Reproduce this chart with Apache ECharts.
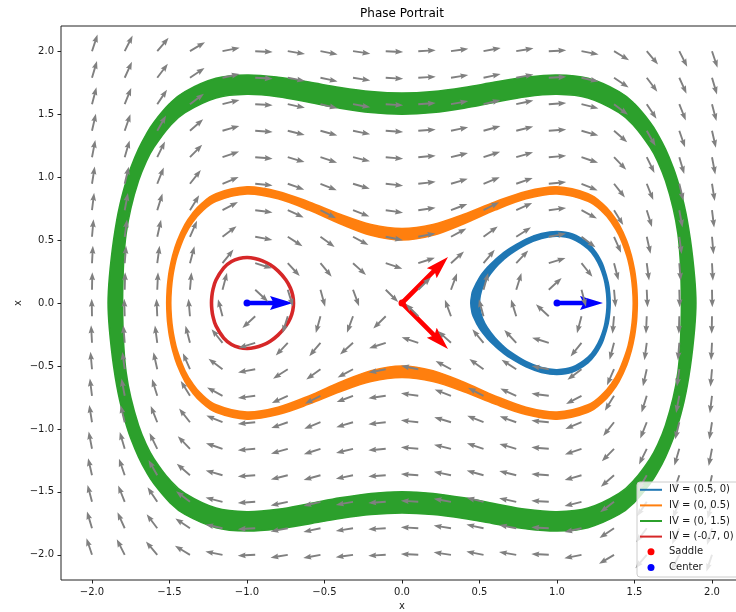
<!DOCTYPE html>
<html>
<head>
<meta charset="utf-8">
<title>Phase Portrait</title>
<script src="https://cdn.jsdelivr.net/npm/echarts@6/dist/echarts.min.js"></script>
<style>
html, body { margin: 0; padding: 0; background: #fff; }
#main { width: 736px; height: 612px; }
</style>
</head>
<body>
<div id="main"></div>
<script>
// grid of the direction field (20 x 20)
var gridVals = [-2, -1.789, -1.579, -1.368, -1.158, -0.947, -0.737, -0.526, -0.316, -0.105,
  0.105, 0.316, 0.526, 0.737, 0.947, 1.158, 1.368, 1.579, 1.789, 2];
// horizontal component for each row (one per y value)
var rowU = [-2, -1.789, -1.579, -1.368, -1.158, -0.947, -0.737, -0.526, -0.316, -0.105,
  0.105, 0.316, 0.526, 0.737, 0.947, 1.158, 1.368, 1.579, 1.789, 2];
// vertical component for each column (one per x value)
var colV = [6, 3.941, 2.357, 1.194, 0.394, -0.097, -0.337, -0.380, -0.284, -0.104,
  0.104, 0.284, 0.380, 0.337, 0.097, -0.394, -1.194, -2.357, -3.941, -6];

var xTicks = [-2, -1.5, -1, -0.5, 0, 0.5, 1, 1.5, 2];
var yTicks = [-2, -1.5, -1, -0.5, 0, 0.5, 1, 1.5, 2];

var ivNames = ['IV = (0.5, 0)', 'IV = (0, 0.5)', 'IV = (0, 1.5)', 'IV = (-0.7, 0)'];
var ivColors = ['#1f77b4', '#ff7f0e', '#2ca02c', '#d62728'];

// blue orbit, upper half (band inner / outer edge)
var blueInner = [[0.5, 0], [0.505, 0.061], [0.52, 0.123], [0.55, 0.195], [0.6, 0.277], [0.65, 0.338],
  [0.7, 0.389], [0.8, 0.465], [0.9, 0.513], [1.0, 0.530], [1.1, 0.509], [1.2, 0.430], [1.25, 0.351],
  [1.28, 0.278], [1.3, 0.208], [1.31, 0.158], [1.32, 0.075], [1.323, 0]];
var blueOuter = [[0.444, 0], [0.45, 0.063], [0.46, 0.106], [0.5, 0.202], [0.55, 0.281], [0.6, 0.342],
  [0.65, 0.394], [0.7, 0.438], [0.8, 0.507], [0.9, 0.551], [1.0, 0.568], [1.1, 0.548], [1.2, 0.475],
  [1.25, 0.405], [1.28, 0.344], [1.3, 0.290], [1.33, 0.163], [1.34, 0.074], [1.343, 0]];
// red orbit, upper half
var redHalf = [[-1.229, 0], [-1.227, 0.048], [-1.22, 0.104], [-1.2, 0.182], [-1.15, 0.279], [-1.1, 0.329],
  [-1.05, 0.353], [-1.0, 0.361], [-0.95, 0.354], [-0.9, 0.335], [-0.85, 0.303], [-0.8, 0.255],
  [-0.75, 0.185], [-0.72, 0.119], [-0.705, 0.060], [-0.7, 0]];
// orange orbit, first quadrant
var orangeInner = [[0, 0.5], [0.2, 0.538], [0.4, 0.630], [0.6, 0.738], [0.8, 0.828], [1.0, 0.866],
  [1.2, 0.808], [1.3, 0.716], [1.35, 0.642], [1.4, 0.538], [1.45, 0.377], [1.47, 0.276], [1.48, 0.204],
  [1.488, 0.114], [1.492, 0]];
var orangeOuter = [[0, 0.592], [0.2, 0.624], [0.4, 0.705], [0.6, 0.803], [0.8, 0.886], [1.0, 0.922],
  [1.2, 0.868], [1.3, 0.782], [1.35, 0.715], [1.4, 0.624], [1.45, 0.492], [1.48, 0.376], [1.5, 0.262],
  [1.51, 0.175], [1.515, 0.106], [1.518, 0]];
// green orbit, first quadrant
var greenInner = [[0, 1.5], [0.2, 1.513], [0.4, 1.548], [0.6, 1.595], [0.8, 1.639], [1.0, 1.658],
  [1.2, 1.629], [1.4, 1.513], [1.5, 1.403], [1.6, 1.238], [1.65, 1.125], [1.7, 0.970], [1.75, 0.750],
  [1.78, 0.550], [1.795, 0.350], [1.801, 0.160], [1.803, 0]];
var greenOuter = [[0, 1.667], [0.2, 1.679], [0.4, 1.711], [0.6, 1.754], [0.8, 1.793], [1.0, 1.811],
  [1.2, 1.784], [1.4, 1.679], [1.5, 1.581], [1.6, 1.436], [1.65, 1.340], [1.7, 1.222], [1.75, 1.074],
  [1.78, 0.964], [1.8, 0.878], [1.82, 0.779], [1.84, 0.659], [1.86, 0.505], [1.875, 0.360],
  [1.888, 0.200], [1.894, 0.090], [1.896, 0]];

var saddlePts = [[0, 0]];
var saddleVecs = [[1, 1], [1, -1]];
var centerPts = [[-1, 0], [1, 0]];
var centerVecs = [[1, 0]];

// mirror helpers
function halfLoop(h) {
  var low = h.slice(1, -1).reverse().map(function (p) { return [p[0], -p[1]]; });
  return h.concat(low);
}
function quadLoop(q) {
  var q4 = q.slice(0, -1).reverse().map(function (p) { return [p[0], -p[1]]; });
  var q3 = q.slice(1).map(function (p) { return [-p[0], -p[1]]; });
  var q2 = q.slice(1, -1).reverse().map(function (p) { return [-p[0], p[1]]; });
  return q.concat(q4, q3, q2);
}

var loops = {
  blueIn: halfLoop(blueInner), blueOut: halfLoop(blueOuter),
  orangeIn: quadLoop(orangeInner), orangeOut: quadLoop(orangeOuter),
  greenIn: quadLoop(greenInner), greenOut: quadLoop(greenOuter),
  red: halfLoop(redHalf)
};

function f2(p) { return p[0].toFixed(2) + ',' + p[1].toFixed(2); }
// closed smooth curve through screen points
function closedCurve(pts) {
  var n = pts.length, d = 'M' + f2(pts[0]);
  for (var k = 0; k < n; k++) {
    var p0 = pts[(k - 1 + n) % n], p1 = pts[k], p2 = pts[(k + 1) % n], p3 = pts[(k + 2) % n];
    var c1 = [p1[0] + (p2[0] - p0[0]) / 6, p1[1] + (p2[1] - p0[1]) / 6];
    var c2 = [p2[0] - (p3[0] - p1[0]) / 6, p2[1] - (p3[1] - p1[1]) / 6];
    d += 'C' + f2(c1) + ' ' + f2(c2) + ' ' + f2(p2);
  }
  return d + 'Z';
}

function arrowPts(px, py, ang, len, w, hw, hl, hal) {
  var c = Math.cos(ang), s = -Math.sin(ang);
  var loc = [[0, -w / 2], [len - hal, -w / 2], [len - hl, -hw / 2], [len, 0],
    [len - hl, hw / 2], [len - hal, w / 2], [0, w / 2]];
  return loc.map(function (p) {
    return [px + p[0] * c - p[1] * s, py + p[0] * s + p[1] * c];
  });
}

function ringSeries(outer, inner, color) {
  return {
    type: 'custom',
    coordinateSystem: 'cartesian2d',
    data: [outer[0]],
    z: 2,
    silent: true,
    renderItem: function (params, api) {
      var o = outer.map(function (p) { return api.coord(p); });
      var d = closedCurve(o);
      if (inner) {
        var ip = inner.slice().reverse().map(function (p) { return api.coord(p); });
        d += closedCurve(ip);
      }
      return {
        type: 'path',
        shape: { pathData: d },
        style: inner
          ? { fill: color, stroke: color, lineWidth: 1.6, lineJoin: 'round' }
          : { fill: null, stroke: color, lineWidth: 3.6, lineJoin: 'round' }
      };
    }
  };
}

var quiverData = [];
for (var j = 0; j < gridVals.length; j++) {
  for (var i = 0; i < gridVals.length; i++) {
    quiverData.push([gridVals[i], gridVals[j], rowU[j], colV[i]]);
  }
}

var eigenRed = saddleVecs.map(function (v) { return [saddlePts[0][0], saddlePts[0][1], v[0], v[1]]; });
var eigenBlue = [];
centerPts.forEach(function (p) {
  centerVecs.forEach(function (v) { eigenBlue.push([p[0], p[1], v[0], v[1]]); });
});

function eigenSeries(data, color) {
  return {
    type: 'custom',
    coordinateSystem: 'cartesian2d',
    data: data,
    z: 5,
    silent: true,
    renderItem: function (params, api) {
      var p = api.coord([api.value(0), api.value(1)]);
      var u = api.value(2), v = api.value(3);
      var len = 46 * Math.sqrt(u * u + v * v);
      return {
        type: 'polygon',
        shape: { points: arrowPts(p[0], p[1], Math.atan2(v, u), len, 4.6, 14, 23, 20.5) },
        style: { fill: color }
      };
    }
  };
}

function tickFmt(v) {
  return (v < 0 ? '\u2212' : '') + Math.abs(v).toFixed(1);
}

var font = 'DejaVu Sans';
var chart = echarts.init(document.getElementById('main'));

var series = [
  ringSeries(loops.greenOut, loops.greenIn, ivColors[2]),
  ringSeries(loops.orangeOut, loops.orangeIn, ivColors[1]),
  ringSeries(loops.blueOut, loops.blueIn, ivColors[0]),
  ringSeries(loops.red, null, ivColors[3])
];
// legend carriers (the visible curves are the paths above)
var lineLoops = [loops.blueIn, loops.orangeIn, loops.greenIn, loops.red];
ivNames.forEach(function (n, k) {
  series.push({
    type: 'line',
    name: n,
    data: lineLoops[k],
    symbol: 'none',
    showSymbol: false,
    z: 1,
    silent: true,
    lineStyle: { color: ivColors[k], width: 1, opacity: 0 },
    itemStyle: { color: ivColors[k] }
  });
});
series.push({
  type: 'scatter', name: 'Saddle', data: saddlePts, symbolSize: 7, z: 4,
  itemStyle: { color: '#ff0000', opacity: 1 }
});
series.push({
  type: 'scatter', name: 'Center', data: centerPts, symbolSize: 7, z: 4,
  itemStyle: { color: '#0000ff', opacity: 1 }
});
series.push(eigenSeries(eigenRed, '#ff0000'));
series.push(eigenSeries(eigenBlue, '#0000ff'));
series.push({
  type: 'custom',
  coordinateSystem: 'cartesian2d',
  data: quiverData,
  z: 6,
  silent: true,
  renderItem: function (params, api) {
    var p = api.coord([api.value(0), api.value(1)]);
    var ang = Math.atan2(api.value(3), api.value(2));
    return {
      type: 'polygon',
      shape: { points: arrowPts(p[0], p[1], ang, 17.5, 1.9, 5.8, 8, 7.2) },
      style: { fill: '#808080' }
    };
  }
});

var legendText = { fontSize: 10, lineHeight: 15.6, color: '#1a1a1a', fontFamily: font };
var option = {
  animation: false,
  textStyle: { fontFamily: font },
  grid: {
    left: 61, top: 26, width: 682, height: 554,
    outerBoundsMode: 'none', containLabel: false,
    show: true, borderColor: '#222', borderWidth: 1, backgroundColor: 'transparent'
  },
  xAxis: {
    type: 'value', min: -2.2, max: 2.2,
    name: 'x', nameLocation: 'middle', nameGap: 19,
    nameTextStyle: { fontSize: 10, color: '#1a1a1a', fontFamily: font },
    axisLine: { show: false, onZero: false },
    splitLine: { show: false },
    axisTick: { show: true, customValues: xTicks, length: 3.5, lineStyle: { color: '#222' } },
    axisLabel: { customValues: xTicks, formatter: tickFmt, fontSize: 10, color: '#1a1a1a', margin: 7, fontFamily: font }
  },
  yAxis: {
    type: 'value', min: -2.2, max: 2.2,
    name: 'x', nameLocation: 'middle', nameGap: 38, nameRotate: 90, nameMoveOverlap: false,
    nameTextStyle: { fontSize: 10, color: '#1a1a1a', fontFamily: font },
    axisLine: { show: false, onZero: false },
    splitLine: { show: false },
    axisTick: { show: true, customValues: yTicks, length: 3.5, lineStyle: { color: '#222' } },
    axisLabel: { customValues: yTicks, formatter: tickFmt, fontSize: 10, color: '#1a1a1a', margin: 7, fontFamily: font }
  },
  legend: [{
    data: ivNames,
    orient: 'vertical', left: 640, top: 482,
    icon: 'rect', itemWidth: 22, itemHeight: 2, itemGap: 0, padding: 0,
    selectedMode: false, z: 30,
    itemStyle: { borderWidth: 0 },
    textStyle: Object.assign({ padding: [0, 0, 0, 2] }, legendText)
  }, {
    data: ['Saddle', 'Center'],
    orient: 'vertical', left: 647.5, top: 544,
    icon: 'circle', itemWidth: 7, itemHeight: 7, itemGap: 0, padding: 0,
    selectedMode: false, z: 30,
    itemStyle: { borderWidth: 0, opacity: 1 },
    textStyle: Object.assign({ padding: [0, 0, 0, 9.5] }, legendText)
  }],
  graphic: [{
    type: 'text', x: 402, y: 14, z: 30,
    style: { text: 'Phase Portrait', align: 'center', verticalAlign: 'middle', font: '12px "DejaVu Sans"', fill: '#000' }
  }, {
    type: 'rect', z: 25, silent: true,
    shape: { x: 637, y: 482, width: 110, height: 95, r: 3 },
    style: { fill: 'rgba(255,255,255,0.8)', stroke: '#cccccc', lineWidth: 1 }
  }],
  series: series
};
chart.setOption(option);
</script>
</body>
</html>
